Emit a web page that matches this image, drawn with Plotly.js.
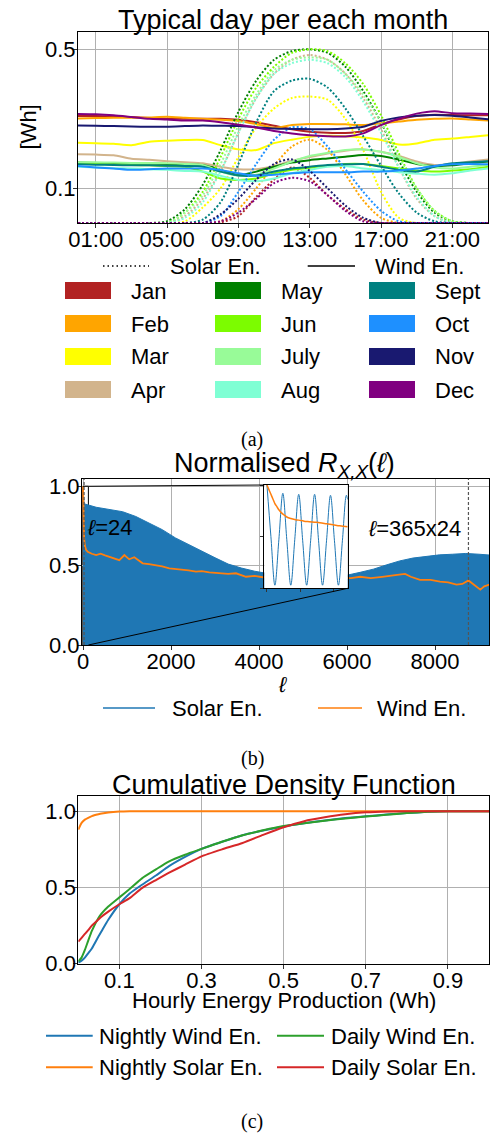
<!DOCTYPE html>
<html><head><meta charset="utf-8">
<script src="https://cdn.plot.ly/plotly-3.0.1.min.js"></script>
<style>html,body{margin:0;padding:0;background:#fff;} #chart{width:491px;height:1135px;}</style>
</head><body><div id="chart"></div>
<script>
// ---------- (a) Typical day per each month ----------
const hours = [0,1,2,3,4,5,6,7,8,9,10,11,12,13,14,15,16,17,18,19,20,21,22,23];
const hourTickVals = [1,5,9,13,17,21];
const hourTickText = ['01:00','05:00','09:00','13:00','17:00','21:00'];
const months = ['Jan','Feb','Mar','Apr','May','Jun','July','Aug','Sept','Oct','Nov','Dec'];
const monthColors = ['#b22222','#ffa500','#ffff00','#d2b48c','#008000','#7cfc00','#98fb98','#7fffd4','#008080','#1e90ff','#191970','#800080'];

const solarJan = [0,0,0,0,0,0,0,0,0.002,0.02,0.075,0.125,0.16,0.13,0.08,0.04,0.01,0,0,0,0,0,0,0];
const solarFeb = [0,0,0,0,0,0,0,0,0.005,0.04,0.10,0.165,0.22,0.24,0.21,0.14,0.065,0.015,0,0,0,0,0,0];
const solarMar = [0,0,0,0,0,0,0.005,0.045,0.10,0.19,0.275,0.33,0.36,0.364,0.355,0.30,0.21,0.09,0.015,0,0,0,0,0];
const solarApr = [0,0,0,0,0,0,0.02,0.07,0.15,0.26,0.36,0.43,0.47,0.484,0.47,0.43,0.36,0.27,0.16,0.07,0.02,0,0,0];
const solarMay = [0,0,0,0,0,0.005,0.04,0.11,0.21,0.32,0.41,0.47,0.495,0.50,0.49,0.45,0.38,0.29,0.18,0.09,0.03,0.005,0,0];
const solarJun = [0,0,0,0,0,0,0.03,0.09,0.19,0.30,0.39,0.45,0.49,0.50,0.495,0.46,0.40,0.31,0.20,0.10,0.035,0.005,0,0];
const solarJul = [0,0,0,0,0,0,0.03,0.08,0.17,0.28,0.37,0.44,0.47,0.477,0.47,0.43,0.37,0.29,0.19,0.10,0.035,0.005,0,0];
const solarAug = [0,0,0,0,0,0,0.015,0.06,0.15,0.26,0.36,0.43,0.46,0.47,0.46,0.42,0.35,0.26,0.16,0.075,0.02,0,0,0];
const solarSep = [0,0,0,0,0,0,0,0.01,0.06,0.17,0.29,0.38,0.41,0.415,0.39,0.33,0.25,0.165,0.085,0.03,0.005,0,0,0];
const solarOct = [0,0,0,0,0,0,0,0,0.02,0.09,0.17,0.24,0.275,0.27,0.22,0.155,0.09,0.035,0.005,0,0,0,0,0];
const solarNov = [0,0,0,0,0,0,0,0,0.025,0.07,0.125,0.17,0.183,0.15,0.10,0.05,0.015,0,0,0,0,0,0,0];
const solarDec = [0,0,0,0,0,0,0,0,0.005,0.03,0.07,0.115,0.13,0.12,0.08,0.035,0.005,0,0,0,0,0,0,0];

const windJan = [0.308,0.308,0.307,0.305,0.302,0.300,0.300,0.300,0.300,0.297,0.290,0.280,0.270,0.263,0.260,0.259,0.265,0.284,0.298,0.308,0.312,0.311,0.310,0.310];
const windFeb = [0.301,0.302,0.303,0.303,0.304,0.306,0.303,0.300,0.297,0.294,0.285,0.274,0.282,0.285,0.285,0.284,0.282,0.287,0.292,0.297,0.300,0.301,0.298,0.295];
const windMar = [0.231,0.230,0.228,0.224,0.234,0.237,0.239,0.239,0.224,0.212,0.210,0.230,0.240,0.248,0.251,0.250,0.246,0.239,0.226,0.229,0.240,0.243,0.248,0.253];
const windApr = [0.198,0.197,0.195,0.185,0.182,0.178,0.175,0.172,0.162,0.155,0.155,0.164,0.179,0.190,0.200,0.208,0.212,0.205,0.193,0.177,0.167,0.170,0.177,0.183];
const windMay = [0.174,0.173,0.172,0.171,0.171,0.170,0.169,0.167,0.153,0.138,0.148,0.162,0.174,0.181,0.186,0.191,0.196,0.193,0.183,0.170,0.164,0.166,0.172,0.177];
const windJun = [0.171,0.170,0.168,0.167,0.166,0.164,0.162,0.148,0.128,0.124,0.128,0.143,0.153,0.159,0.165,0.170,0.170,0.164,0.157,0.151,0.148,0.151,0.155,0.162];
const windJul = [0.175,0.175,0.174,0.173,0.173,0.172,0.170,0.167,0.148,0.136,0.139,0.157,0.177,0.193,0.202,0.210,0.212,0.205,0.190,0.172,0.160,0.157,0.162,0.167];
const windAug = [0.162,0.160,0.158,0.157,0.155,0.153,0.150,0.148,0.136,0.124,0.120,0.128,0.143,0.153,0.162,0.164,0.157,0.153,0.146,0.142,0.139,0.143,0.151,0.157];
const windSep = [0.169,0.168,0.167,0.166,0.166,0.165,0.164,0.162,0.148,0.137,0.137,0.148,0.157,0.162,0.167,0.169,0.170,0.162,0.153,0.148,0.162,0.172,0.175,0.178];
const windOct = [0.164,0.160,0.157,0.153,0.155,0.157,0.157,0.157,0.153,0.143,0.136,0.139,0.143,0.146,0.146,0.146,0.148,0.148,0.151,0.157,0.164,0.169,0.170,0.169];
const windNov = [0.281,0.280,0.279,0.278,0.277,0.277,0.279,0.281,0.280,0.279,0.276,0.272,0.271,0.270,0.270,0.272,0.277,0.294,0.304,0.309,0.311,0.309,0.304,0.299];
const windDec = [0.314,0.313,0.310,0.305,0.300,0.298,0.295,0.295,0.290,0.283,0.275,0.265,0.258,0.253,0.250,0.249,0.258,0.282,0.300,0.315,0.322,0.316,0.315,0.314];

const solarByMonth = [solarJan,solarFeb,solarMar,solarApr,solarMay,solarJun,solarJul,solarAug,solarSep,solarOct,solarNov,solarDec];
const windByMonth = [windJan,windFeb,windMar,windApr,windMay,windJun,windJul,windAug,windSep,windOct,windNov,windDec];

// ---------- (b) Normalised autocorrelation ----------
const solarEnvLags = [0,24,300,600,900,1200,1500,1800,2100,2400,2700,3000,3300,3600,3900,4200,4500,4800,5100,5400,5700,6000,6300,6600,6900,7200,7500,7800,8100,8400,8700,9000,9234];
const solarEnvAcf  = [1.0,0.89,0.868,0.855,0.84,0.81,0.77,0.727,0.675,0.632,0.59,0.55,0.51,0.485,0.465,0.45,0.445,0.44,0.436,0.435,0.437,0.44,0.458,0.478,0.505,0.53,0.548,0.56,0.568,0.572,0.577,0.572,0.567];
const windLags = [0,8,15,24,40,70,106,200,300,400,500,600,700,825,940,1050,1166,1260,1356,1500,1659,1800,1962,2100,2264,2400,2567,2700,2870,3000,3175,3300,3477,3600,3705,3900,4085,4400,4800,5200,5600,6090,6300,6540,6800,7000,7140,7320,7450,7660,7900,8114,8300,8490,8620,8760,8900,9030,9120,9234];
const windAcf  = [1.0,0.85,0.74,0.68,0.63,0.60,0.588,0.575,0.567,0.575,0.565,0.556,0.55,0.535,0.567,0.54,0.553,0.535,0.515,0.51,0.504,0.495,0.483,0.48,0.473,0.47,0.462,0.465,0.458,0.455,0.452,0.448,0.452,0.44,0.43,0.435,0.427,0.43,0.425,0.43,0.425,0.421,0.43,0.421,0.43,0.435,0.442,0.448,0.43,0.411,0.41,0.40,0.395,0.38,0.385,0.407,0.375,0.349,0.37,0.38];
const insetSolarLags = [0,6,12,18,24,30,36,42,48,54,60,66,72,78,84,90,96,102,108,114,120,122];
const insetSolarAcf  = [1.0,0.5,0.03,0.47,0.92,0.47,0.03,0.47,0.91,0.46,0.03,0.46,0.91,0.46,0.03,0.46,0.90,0.46,0.03,0.46,0.90,0.86];
const insetWindLags = [0,2,4,6,8,10,12,15,18,22,26,30,36,42,48,56,64,72,80,90,100,110,122];
const insetWindAcf  = [1.0,0.97,0.94,0.91,0.88,0.85,0.82,0.79,0.76,0.73,0.71,0.69,0.675,0.665,0.66,0.65,0.645,0.64,0.635,0.625,0.615,0.605,0.595];
const markerLags = [24, 365*24];
const insetLagRange = [-4, 122];

// ---------- (c) CDF ----------
const energy = [0,0.008,0.016,0.024,0.033,0.049,0.057,0.073,0.1,0.125,0.155,0.19,0.22,0.26,0.3,0.35,0.4,0.45,0.5,0.55,0.6,0.65,0.7,0.75,0.8,0.85,0.9,0.95,1.0];
const cdfNightlyWind = [0.007,0.02,0.04,0.068,0.10,0.178,0.215,0.288,0.39,0.46,0.518,0.58,0.638,0.70,0.753,0.80,0.843,0.874,0.90,0.922,0.94,0.955,0.967,0.978,0.988,0.996,1.0,1.0,1.0];
const cdfNightlySolar = [0.88,0.924,0.945,0.957,0.968,0.98,0.985,0.992,0.998,1.0,1.0,1.0,1.0,1.0,1.0,1.0,1.0,1.0,1.0,1.0,1.0,1.0,1.0,1.0,1.0,1.0,1.0,1.0,1.0];
const cdfDailyWind = [0.015,0.04,0.09,0.15,0.215,0.30,0.33,0.375,0.435,0.49,0.56,0.62,0.67,0.715,0.753,0.80,0.842,0.875,0.903,0.922,0.938,0.952,0.965,0.977,0.988,0.996,1.0,1.0,1.0];
const cdfDailySolar = [0.145,0.17,0.195,0.22,0.25,0.29,0.31,0.342,0.39,0.43,0.496,0.55,0.595,0.65,0.704,0.75,0.792,0.845,0.895,0.935,0.96,0.98,0.993,0.999,1.0,1.0,1.0,1.0,1.0];
const cdfNames = ['Nightly Wind En.','Nightly Solar En.','Daily Wind En.','Daily Solar En.'];
const cdfColors = ['#1f77b4','#ff7f0e','#2ca02c','#d62728'];
const cdfSeries = [cdfNightlyWind, cdfNightlySolar, cdfDailyWind, cdfDailySolar];

// ---------- layout helpers ----------
const W = 491, H = 1135;
const px = x => x / W;
const py = y => 1 - y / H;
const FONT = 'Liberation Sans, Arial, sans-serif';
const SERIF = 'Liberation Serif, Times New Roman, serif';
const TICK = 22, TITLE = 27;

const baseAxis = {
  showline: true, mirror: true, linecolor: '#000', linewidth: 1,
  showgrid: true, gridcolor: '#b0b0b0', gridwidth: 1,
  zeroline: false, ticks: 'outside', ticklen: 4, tickwidth: 1, tickcolor: '#333',
  tickfont: {family: FONT, size: TICK, color: '#000'}, automargin: false, fixedrange: true
};
const xTickAdj = {ticklabelstandoff: -7};
const yTickAdj = {ticklabelstandoff: -7};

const traces = [];
months.forEach((m, i) => {
  traces.push({x: hours, y: solarByMonth[i], xaxis: 'x', yaxis: 'y', mode: 'lines', name: m + ' solar',
    line: {color: monthColors[i], width: 2, dash: '2px,2px', shape: 'spline', smoothing: 0.8}, hoverinfo: 'skip'});
  traces.push({x: hours, y: windByMonth[i], xaxis: 'x', yaxis: 'y', mode: 'lines', name: m + ' wind',
    line: {color: monthColors[i], width: 2, shape: 'spline', smoothing: 0.6}, hoverinfo: 'skip'});
});
traces.push({x: solarEnvLags, y: solarEnvAcf, xaxis: 'x2', yaxis: 'y2', mode: 'lines', fill: 'tozeroy',
  fillcolor: '#1f77b4', line: {color: '#1f77b4', width: 1}, name: 'Solar En.'});
traces.push({x: windLags, y: windAcf, xaxis: 'x2', yaxis: 'y2', mode: 'lines',
  line: {color: '#ff7f0e', width: 1.8}, name: 'Wind En.'});
traces.push({x: insetSolarLags, y: insetSolarAcf, xaxis: 'x3', yaxis: 'y3', mode: 'lines',
  line: {color: '#1f77b4', width: 1, shape: 'spline', smoothing: 1}, name: 'Solar inset'});
traces.push({x: insetWindLags, y: insetWindAcf, xaxis: 'x3', yaxis: 'y3', mode: 'lines',
  line: {color: '#ff7f0e', width: 1.5, shape: 'spline'}, name: 'Wind inset'});
cdfSeries.forEach((s, i) => {
  traces.push({x: energy, y: s, xaxis: 'x4', yaxis: 'y4', mode: 'lines', name: cdfNames[i],
    line: {color: cdfColors[i], width: 2, shape: 'spline', smoothing: 0.5}});
});

// axes geometry
const axB = {x0: 82, x1: 489.3, y0: 645, y1: 478.7, r: [-23, 9234], yr: [0, 1.048]};
const inset = {x0: 264.3, x1: 347.7, y0: 588.3, y1: 485};
const bX = v => px(axB.x0 + (v - axB.r[0]) / (axB.r[1] - axB.r[0]) * (axB.x1 - axB.x0));
const bY = v => py(axB.y0 - (v - axB.yr[0]) / (axB.yr[1] - axB.yr[0]) * (axB.y0 - axB.y1));

const shapes = [];
const annotations = [];
const ann = (text, x, y, opts={}) => annotations.push(Object.assign({text, x: px(x), y: py(y), xref: 'paper', yref: 'paper',
  showarrow: false, xanchor: 'center', yanchor: 'middle', font: {family: FONT, size: TICK, color: '#000'}}, opts));
const hline = (x0, x1, y, color, width, dash) => shapes.push({type: 'line', xref: 'paper', yref: 'paper',
  x0: px(x0), x1: px(x1), y0: py(y), y1: py(y), line: {color, width, dash: dash || 'solid'}});

// (a) texts & legend
ann('Typical day per each month', 283, 20.5, {font: {family: FONT, size: TITLE, color: '#000'}});
ann('[Wh]', 28, 127.5, {textangle: -90});
hline(103, 149, 266, '#000', 1.5, '1.5px,3px');
ann('Solar En.', 168, 266, {xanchor: 'left'});
hline(307.7, 355, 266, '#000', 1.5);
ann('Wind En.', 372.7, 266, {xanchor: 'left'});
const colX = [65, 215, 369];
const textX = [129.3, 279.3, 433.3];
const rowY = [290.5, 323.5, 356.5, 389.5];
months.forEach((m, i) => {
  const c = Math.floor(i / 4), r = i % 4;
  shapes.push({type: 'rect', xref: 'paper', yref: 'paper', x0: px(colX[c]), x1: px(colX[c] + 46),
    y0: py(rowY[r] + 8.5), y1: py(rowY[r] - 8.5), fillcolor: monthColors[i], line: {width: 0}});
  ann(m, textX[c], rowY[r] + 0.5, {xanchor: 'left'});
});
ann('(a)', 252, 439.5, {font: {family: SERIF, size: 20, color: '#000'}});

// (b) texts, markers, inset connectors, legend
ann('Normalised <i>R</i><sub><i>X,X</i></sub>(<i>ℓ</i>)', 284, 465, {font: {family: FONT, size: TITLE, color: '#000'}});
ann('<i>ℓ</i>=24', 85, 527, {xanchor: 'left'});
ann('<i>ℓ</i>=365x24', 463, 528, {xanchor: 'right'});
ann('<i>ℓ</i>', 282, 684);
markerLags.forEach(l => shapes.push({type: 'line', xref: 'x2', yref: 'paper', x0: l, x1: l,
  y0: py(axB.y0), y1: py(axB.y1), line: {color: '#555', width: 1.2, dash: '3px,2px'}, layer: 'above'}));
shapes.push({type: 'rect', xref: 'x2', yref: 'y2', x0: insetLagRange[0], x1: insetLagRange[1], y0: 0, y1: 1.0,
  line: {color: '#000', width: 1}, layer: 'below'});
shapes.push({type: 'line', xref: 'paper', yref: 'paper', x0: bX(insetLagRange[0]), y0: bY(1.0),
  x1: px(inset.x0), y1: py(inset.y1), line: {color: '#000', width: 1}});
shapes.push({type: 'line', xref: 'paper', yref: 'paper', x0: bX(insetLagRange[1]), y0: bY(0),
  x1: px(inset.x1), y1: py(inset.y0), line: {color: '#000', width: 1}});
hline(103, 155, 708, '#1f77b4', 1.5);
ann('Solar En.', 170, 708, {xanchor: 'left'});
hline(318, 362, 708, '#ff7f0e', 1.5);
ann('Wind En.', 375, 708, {xanchor: 'left'});
ann('(b)', 252, 758, {font: {family: SERIF, size: 20, color: '#000'}});

// (c) texts & legend
ann('Cumulative Density Function', 283.5, 784.5, {font: {family: FONT, size: TITLE, color: '#000'}});
ann('Hourly Energy Production (Wh)', 283.5, 1001);
const legCx = [[46, 92.7, 97.3], [277, 324, 329]];
const legCy = [1035.7, 1067.3];
[[0, 0, 0], [1, 0, 1], [2, 1, 0], [3, 1, 1]].forEach(([i, c, r]) => {
  hline(legCx[c][0], legCx[c][1], legCy[r], cdfColors[i], 2);
  ann(cdfNames[i], legCx[c][2], legCy[r] + 0.5, {xanchor: 'left'});
});
ann('(c)', 252, 1121, {font: {family: SERIF, size: 20, color: '#000'}});

const layout = {
  width: W, height: H, margin: {l: 0, r: 0, t: 0, b: 0, pad: 0},
  paper_bgcolor: '#fff', plot_bgcolor: '#fff', showlegend: false,
  font: {family: FONT, size: TICK, color: '#000'},
  xaxis: Object.assign({}, baseAxis, xTickAdj, {domain: [px(78), px(488)], range: [0, 23], tickvals: hourTickVals, ticktext: hourTickText, anchor: 'y'}),
  yaxis: Object.assign({}, baseAxis, yTickAdj, {domain: [py(223), py(32)], range: [0, 0.55], tickvals: [0.1, 0.5], ticktext: ['0.1', '0.5'], anchor: 'x'}),
  xaxis2: Object.assign({}, baseAxis, xTickAdj, {domain: [px(axB.x0), px(axB.x1)], range: axB.r, tickvals: [0, 2000, 4000, 6000, 8000], anchor: 'y2'}),
  yaxis2: Object.assign({}, baseAxis, yTickAdj, {domain: [py(axB.y0), py(axB.y1)], range: axB.yr, tickvals: [0, 0.5, 1.0], ticktext: ['0.0', '0.5', '1.0'], anchor: 'x2'}),
  xaxis3: Object.assign({}, baseAxis, {domain: [px(inset.x0), px(inset.x1)], range: insetLagRange, showgrid: false, showticklabels: false, ticklen: 3, tickvals: [0, 50, 100], anchor: 'y3'}),
  yaxis3: Object.assign({}, baseAxis, {domain: [py(inset.y0), py(inset.y1)], range: [0, 1.0], showgrid: false, showticklabels: false, ticklen: 3, tickvals: [0, 0.5, 1.0], anchor: 'x3'}),
  xaxis4: Object.assign({}, baseAxis, xTickAdj, {domain: [px(78.3), px(489)], range: [0, 1], tickvals: [0.1, 0.3, 0.5, 0.7, 0.9], ticktext: ['0.1', '0.3', '0.5', '0.7', '0.9'], anchor: 'y4'}),
  yaxis4: Object.assign({}, baseAxis, yTickAdj, {domain: [py(963.7), py(796)], range: [0, 1.1], tickvals: [0, 0.5, 1.0], ticktext: ['0.0', '0.5', '1.0'], anchor: 'x4'}),
  shapes, annotations
};

Plotly.newPlot('chart', traces, layout, {staticPlot: true, displayModeBar: false});
</script>
</body></html>
